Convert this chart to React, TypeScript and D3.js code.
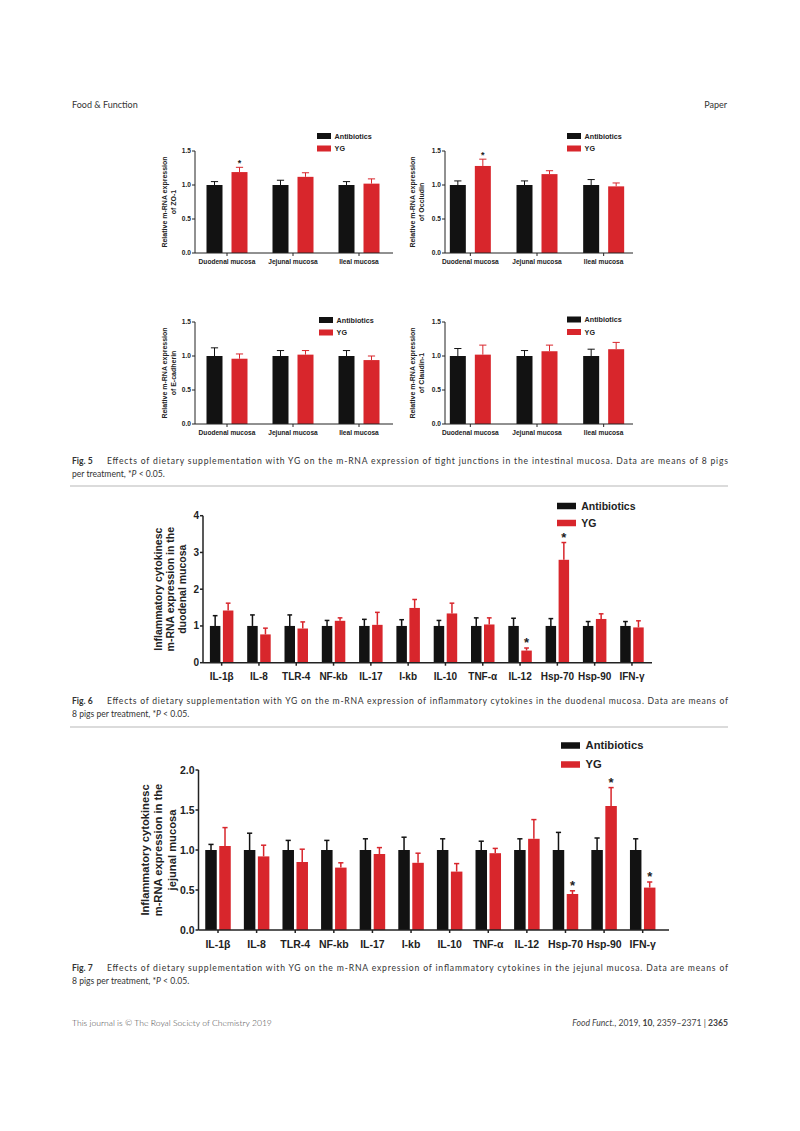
import React from "react";
import * as d3 from "d3";

// ---------- DATA ----------
const fig5Categories = ["Duodenal mucosa", "Jejunal mucosa", "Ileal mucosa"];
const seriesNames = ["Antibiotics", "YG"];

const zo1Antibiotics = [1.0, 1.0, 1.0];
const zo1AntibioticsErr = [0.05, 0.07, 0.05];
const zo1YG = [1.19, 1.12, 1.02];
const zo1YGErr = [0.07, 0.06, 0.07];
const zo1Sig = [true, false, false];

const occludinAntibiotics = [1.0, 1.0, 1.0];
const occludinAntibioticsErr = [0.06, 0.06, 0.08];
const occludinYG = [1.28, 1.16, 0.98];
const occludinYGErr = [0.1, 0.05, 0.05];
const occludinSig = [true, false, false];

const ecadAntibiotics = [1.0, 1.0, 1.0];
const ecadAntibioticsErr = [0.12, 0.08, 0.08];
const ecadYG = [0.96, 1.02, 0.94];
const ecadYGErr = [0.07, 0.06, 0.06];
const ecadSig = [false, false, false];

const claudinAntibiotics = [1.0, 1.0, 1.0];
const claudinAntibioticsErr = [0.11, 0.08, 0.1];
const claudinYG = [1.02, 1.07, 1.1];
const claudinYGErr = [0.14, 0.09, 0.1];
const claudinSig = [false, false, false];

const cytokineCategories = ["IL-1β", "IL-8", "TLR-4", "NF-kb", "IL-17", "I-kb", "IL-10", "TNF-α", "IL-12", "Hsp-70", "Hsp-90", "IFN-γ"];

const duoAntibiotics = [1, 1, 1, 1, 1, 1, 1, 1, 1, 1, 1, 1];
const duoAntibioticsErr = [0.28, 0.3, 0.3, 0.15, 0.18, 0.17, 0.15, 0.22, 0.21, 0.2, 0.12, 0.12];
const duoYG = [1.42, 0.77, 0.93, 1.14, 1.03, 1.49, 1.34, 1.04, 0.33, 2.8, 1.19, 0.96];
const duoYGErr = [0.2, 0.17, 0.18, 0.08, 0.34, 0.23, 0.28, 0.18, 0.07, 0.47, 0.14, 0.18];
const duoSig = [false, false, false, false, false, false, false, false, true, true, false, false];

const jejAntibiotics = [1, 1, 1, 1, 1, 1, 1, 1, 1, 1, 1, 1];
const jejAntibioticsErr = [0.07, 0.21, 0.12, 0.12, 0.14, 0.16, 0.14, 0.11, 0.14, 0.22, 0.15, 0.14];
const jejYG = [1.05, 0.92, 0.85, 0.78, 0.95, 0.84, 0.73, 0.96, 1.14, 0.45, 1.55, 0.53];
const jejYGErr = [0.23, 0.14, 0.16, 0.06, 0.08, 0.12, 0.1, 0.06, 0.24, 0.04, 0.23, 0.07];
const jejSig = [false, false, false, false, false, false, false, false, false, true, true, true];

const fig5Ticks = [0, 0.5, 1.0, 1.5];
const fig6Ticks = [0, 1, 2, 3, 4];
const fig7Ticks = [0, 0.5, 1.0, 1.5, 2.0];

const BLACK = "#121212";
const RED = "#d8262c";
const CHART_FONT = "'Liberation Sans', Arial, sans-serif";
const TEXT_FONT = "Lato, 'Open Sans', sans-serif";

type PanelProps = {
  categories: string[];
  a: number[];
  aErr: number[];
  b: number[];
  bErr: number[];
  sig: boolean[];
  ticks: number[];
  tickFmt: (v: number) => string;
  yMax: number;
  axisX: number;
  axisEnd: number;
  bandStart: number;
  bandEnd: number;
  y0: number;
  yTop: number;
  barW: number;
  gap: number;
  tickFont: number;
  xLabelY: number;
  yLabelLines: string[];
  yLabelXs: number[];
  yLabelFont: number;
  legX: number;
  legY: number;
  legDy: number;
  legW: number;
  legH: number;
  legFont: number;
  strokeW: number;
  starFont: number;
};

function BarPanel(p: PanelProps) {
  const x = d3.scaleBand<string>().domain(p.categories).range([p.bandStart, p.bandEnd]).padding(0);
  const y = d3.scaleLinear().domain([0, p.yMax]).range([p.y0, p.yTop]);
  const bw = x.bandwidth();
  const capW = p.barW * 0.45;
  const yMid = (p.y0 + p.yTop) / 2;
  const series = [
    { vals: p.a, errs: p.aErr, color: BLACK, off: -p.gap / 2 - p.barW },
    { vals: p.b, errs: p.bErr, color: RED, off: p.gap / 2 },
  ];
  return (
    <g>
      {series.map((s, si) =>
        p.categories.map((c, i) => {
          const cx = (x(c) as number) + bw / 2;
          const bx = cx + s.off;
          const mx = bx + p.barW / 2;
          const top = y(s.vals[i]);
          const et = y(s.vals[i] + s.errs[i]);
          return (
            <g key={`${si}-${i}`}>
              <line x1={mx} x2={mx} y1={top} y2={et} stroke={s.color} strokeWidth={p.strokeW} />
              <line x1={mx - capW / 2} x2={mx + capW / 2} y1={et} y2={et} stroke={s.color} strokeWidth={p.strokeW} />
              <rect x={bx} y={top} width={p.barW} height={p.y0 - top} fill={s.color} />
              {si === 1 && p.sig[i] ? (
                <text x={mx} y={et - 1} textAnchor="middle" fontSize={p.starFont} fontWeight="bold" fill="#222" fontFamily={CHART_FONT}>*</text>
              ) : null}
            </g>
          );
        })
      )}
      {/* axes */}
      <line x1={p.axisX} x2={p.axisX} y1={p.yTop} y2={p.y0} stroke="#222" strokeWidth={p.strokeW} />
      <line x1={p.axisX} x2={p.axisEnd} y1={p.y0} y2={p.y0} stroke="#222" strokeWidth={p.strokeW} />
      {p.ticks.map((t) => (
        <g key={t}>
          <line x1={p.axisX - 3} x2={p.axisX} y1={y(t)} y2={y(t)} stroke="#222" strokeWidth={p.strokeW} />
          <text x={p.axisX - 4} y={y(t)} dy="0.35em" textAnchor="end" fontSize={p.tickFont} fontWeight="bold" fill="#222" fontFamily={CHART_FONT}>{p.tickFmt(t)}</text>
        </g>
      ))}
      {p.categories.map((c) => {
        const cx = (x(c) as number) + bw / 2;
        return (
          <g key={c}>
            <line x1={cx} x2={cx} y1={p.y0} y2={p.y0 + 3} stroke="#222" strokeWidth={p.strokeW} />
            <text x={cx} y={p.xLabelY} dy="0.35em" textAnchor="middle" fontSize={p.tickFont} fontWeight="bold" fill="#222" fontFamily={CHART_FONT}>{c}</text>
          </g>
        );
      })}
      {p.yLabelLines.map((l, i) => (
        <text key={i} transform={`translate(${p.yLabelXs[i]},${yMid}) rotate(-90)`} textAnchor="middle" dy="0.35em" fontSize={p.yLabelFont} fontWeight="bold" fill="#222" fontFamily={CHART_FONT}>{l}</text>
      ))}
      {seriesNames.map((n, i) => (
        <g key={n}>
          <rect x={p.legX} y={p.legY + i * p.legDy - p.legH / 2} width={p.legW} height={p.legH} fill={i === 0 ? BLACK : RED} />
          <text x={p.legX + p.legW + p.legFont * 0.5} y={p.legY + i * p.legDy} dy="0.35em" fontSize={p.legFont} fontWeight="bold" fill="#222" fontFamily={CHART_FONT}>{n}</text>
        </g>
      ))}
    </g>
  );
}

const f1 = (v: number) => d3.format(".1f")(v);
const f0 = (v: number) => d3.format("d")(v);

const fig5Common = {
  categories: fig5Categories,
  ticks: fig5Ticks,
  tickFmt: f1,
  yMax: 1.5,
  barW: 16,
  gap: 9,
  tickFont: 6.6,
  yLabelFont: 7,
  legDy: 12.5,
  legW: 14,
  legH: 6,
  legFont: 7.2,
  strokeW: 1,
  starFont: 9,
};

function Caption({ y, num, line1, line2 }: { y: number; num: string; line1: string; line2: React.ReactNode }) {
  return (
    <g fontFamily={TEXT_FONT} fontSize={8.6} fill="#333">
      <text x={72} y={y} fontWeight="bold">{num}</text>
      <text x={107} y={y} textLength={621} lengthAdjust="spacing">{line1}</text>
      <text x={72} y={y + 12.8}>{line2}</text>
    </g>
  );
}

export default function App() {
  return (
    <svg width={800} height={1131} style={{ position: "absolute", left: 0, top: 0, background: "#fff" }}>
      <rect width={800} height={1131} fill="#fff" />
      <text x={72} y={108} fontFamily={TEXT_FONT} fontSize={9} fill="#333">Food &amp; Function</text>
      <text x={727} y={108} textAnchor="end" fontFamily={TEXT_FONT} fontSize={9} fill="#333">Paper</text>

      <BarPanel {...fig5Common} a={zo1Antibiotics} aErr={zo1AntibioticsErr} b={zo1YG} bErr={zo1YGErr} sig={zo1Sig}
        axisX={195} axisEnd={393} bandStart={194} bandEnd={392} y0={253} yTop={151} xLabelY={262}
        yLabelLines={["Relative m-RNA expression", "of ZO-1"]} yLabelXs={[165, 174]}
        legX={317} legY={136} />
      <BarPanel {...fig5Common} a={occludinAntibiotics} aErr={occludinAntibioticsErr} b={occludinYG} bErr={occludinYGErr} sig={occludinSig}
        axisX={445} axisEnd={633} bandStart={437} bandEnd={637} y0={253} yTop={151} xLabelY={262}
        yLabelLines={["Relative m-RNA expression", "of Occludin"]} yLabelXs={[413, 422]}
        legX={567} legY={136} />
      <BarPanel {...fig5Common} a={ecadAntibiotics} aErr={ecadAntibioticsErr} b={ecadYG} bErr={ecadYGErr} sig={ecadSig}
        axisX={195} axisEnd={393} bandStart={194} bandEnd={392} y0={424} yTop={322} xLabelY={433}
        yLabelLines={["Relative m-RNA expression", "of E-cadherin"]} yLabelXs={[165, 174]}
        legX={319} legY={320} />
      <BarPanel {...fig5Common} a={claudinAntibiotics} aErr={claudinAntibioticsErr} b={claudinYG} bErr={claudinYGErr} sig={claudinSig}
        axisX={445} axisEnd={633} bandStart={437} bandEnd={637} y0={424} yTop={322} xLabelY={433}
        yLabelLines={["Relative m-RNA expression", "of Claudin-1"]} yLabelXs={[413, 422]}
        legX={567} legY={319.5} />

      <Caption y={464} num="Fig. 5"
        line1="Effects of dietary supplementation with YG on the m-RNA expression of tight junctions in the intestinal mucosa. Data are means of 8 pigs"
        line2={<>per treatment, *<tspan fontStyle="italic">P</tspan> &lt; 0.05.</>} />
      <line x1={70} x2={728} y1={486} y2={486} stroke="#cfcfcf" strokeWidth={1.5} />

      <BarPanel categories={cytokineCategories} a={duoAntibiotics} aErr={duoAntibioticsErr} b={duoYG} bErr={duoYGErr} sig={duoSig}
        ticks={fig6Ticks} tickFmt={f0} yMax={4}
        axisX={203} axisEnd={652} bandStart={203} bandEnd={650.6} y0={662.7} yTop={515.7}
        barW={10.5} gap={2.5} tickFont={10} xLabelY={676}
        yLabelLines={["Inflammatory cytokinesc", "m-RNA expression in the", "duodenal mucosa"]} yLabelXs={[158, 170, 182]} yLabelFont={10.5}
        legX={557} legY={506} legDy={17} legW={19} legH={6.5} legFont={10.5} strokeW={1.5} starFont={13} />

      <Caption y={704} num="Fig. 6"
        line1="Effects of dietary supplementation with YG on the m-RNA expression of inflammatory cytokines in the duodenal mucosa. Data are means of"
        line2={<>8 pigs per treatment, *<tspan fontStyle="italic">P</tspan> &lt; 0.05.</>} />
      <line x1={70} x2={728} y1={727} y2={727} stroke="#cfcfcf" strokeWidth={1.5} />

      <BarPanel categories={cytokineCategories} a={jejAntibiotics} aErr={jejAntibioticsErr} b={jejYG} bErr={jejYGErr} sig={jejSig}
        ticks={fig7Ticks} tickFmt={f1} yMax={2}
        axisX={198.5} axisEnd={669} bandStart={198.7} bandEnd={662} y0={930} yTop={770}
        barW={11.5} gap={2.5} tickFont={10.5} xLabelY={944}
        yLabelLines={["Inflammatory cytokinesc", "m-RNA expression in the", "jejunal mucosa"]} yLabelXs={[145, 158.5, 172]} yLabelFont={11.2}
        legX={561} legY={745.5} legDy={19} legW={19} legH={6.5} legFont={11.2} strokeW={1.5} starFont={13} />

      <Caption y={971} num="Fig. 7"
        line1="Effects of dietary supplementation with YG on the m-RNA expression of inflammatory cytokines in the jejunal mucosa. Data are means of"
        line2={<>8 pigs per treatment, *<tspan fontStyle="italic">P</tspan> &lt; 0.05.</>} />

      <text x={72} y={1026} fontFamily={TEXT_FONT} fontSize={8.6} fill="#444" fontWeight={300}>This journal is © The Royal Society of Chemistry 2019</text>
      <text x={728} y={1026} textAnchor="end" fontFamily={TEXT_FONT} fontSize={8.6} fill="#444">
        <tspan fontStyle="italic">Food Funct.</tspan>, 2019, <tspan fontWeight="bold">10</tspan>, 2359–2371 | <tspan fontWeight="bold">2365</tspan>
      </text>
    </svg>
  );
}
